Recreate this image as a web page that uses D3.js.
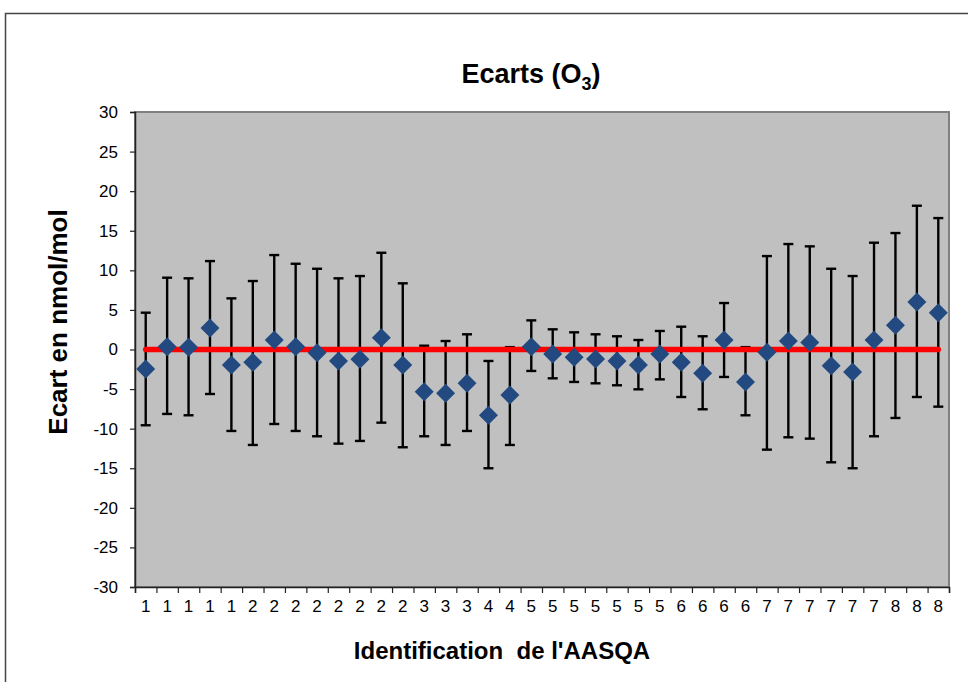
<!DOCTYPE html>
<html>
<head>
<meta charset="utf-8">
<script src="https://cdn.jsdelivr.net/npm/d3@7"></script>
<style>
  html, body { margin: 0; padding: 0; background: #fff; }
  svg { display: block; }
  text { font-family: "Liberation Sans", Arial, sans-serif; }
</style>
</head>
<body>
<svg id="chart" width="968" height="682"></svg>
<script>
// ---- Data ----
const categories = ["1","1","1","1","1","2","2","2","2","2","2","2","2","3","3","3","4","4","5","5","5","5","5","5","5","6","6","6","6","7","7","7","7","7","7","8","8","8"];
const ecart = [-2.46, 0.36, 0.28, 2.71, -1.96, -1.62, 1.2, 0.36, -0.4, -1.45, -1.24, 1.5, -1.96, -5.33, -5.54, -4.27, -8.31, -5.75, 0.36, -0.57, -0.99, -1.2, -1.45, -1.96, -0.57, -1.62, -3.0, 1.2, -4.1, -0.36, 1.07, 0.9, -2.04, -2.84, 1.2, 3.05, 6.0, 4.65];
const upper = [4.65, 9.07, 8.99, 11.17, 6.46, 8.65, 11.93, 10.83, 10.2, 8.99, 9.28, 12.22, 8.36, 0.48, 1.07, 1.92, -1.45, 0.3, 3.68, 2.55, 2.17, 1.92, 1.67, 1.2, 2.34, 2.88, 1.67, 5.87, 0.3, 11.8, 13.32, 13.03, 10.2, 9.28, 13.49, 14.71, 18.16, 16.6];
const lower = [-9.57, -8.14, -8.31, -5.62, -10.29, -12.06, -9.41, -10.29, -10.96, -11.89, -11.55, -9.24, -12.35, -10.96, -12.06, -10.29, -15.0, -12.06, -2.71, -3.64, -4.1, -4.27, -4.52, -5.03, -3.77, -6.0, -7.55, -3.47, -8.31, -12.65, -11.09, -11.26, -14.25, -15.0, -10.96, -8.65, -6.0, -7.22];
const reference = 0;
const yTicks = [-30, -25, -20, -15, -10, -5, 0, 5, 10, 15, 20, 25, 30];

const svg = d3.select("#chart");
const W = 968, H = 682;
const plot = { left: 135, right: 949, top: 112, bottom: 587 };

// outer chart frame
svg.append("rect").attr("x", 0).attr("y", 0).attr("width", W).attr("height", H).attr("fill", "#fff");
svg.append("rect").attr("x", 5.5).attr("y", 13.5).attr("width", 1000).attr("height", 800)
  .attr("fill", "none").attr("stroke", "#444").attr("stroke-width", 1.5);

const idx = categories.map((_, i) => i);
const x = d3.scaleBand().domain(idx).range([plot.left, plot.right]).padding(0);
const xc = i => x(i) + x.bandwidth() / 2;
const y = d3.scaleLinear().domain([-30, 30]).range([plot.bottom, plot.top]);

// plot area
svg.append("rect")
  .attr("x", plot.left).attr("y", plot.top)
  .attr("width", plot.right - plot.left).attr("height", plot.bottom - plot.top)
  .attr("fill", "#C0C0C0").attr("stroke", "#808080").attr("stroke-width", 2);

// Y axis
const yAxis = svg.append("g").attr("transform", `translate(${plot.left},0)`)
  .call(d3.axisLeft(y).tickValues(yTicks).tickSize(5).tickPadding(12).tickFormat(d => String(d)));
yAxis.select(".domain").attr("stroke", "#222").attr("stroke-width", 1.5);
yAxis.selectAll(".tick line").attr("stroke", "#222").attr("stroke-width", 1.2);
yAxis.selectAll("text").attr("font-size", 17).attr("fill", "#000")
  .style("font-family", "'Liberation Sans', Arial, sans-serif");

// X axis: tick marks at category boundaries
const xb = d3.scaleLinear().domain([0, categories.length]).range([plot.left, plot.right]);
const xTickAxis = svg.append("g").attr("transform", `translate(0,${plot.bottom})`)
  .call(d3.axisBottom(xb).tickValues(d3.range(0, categories.length + 1)).tickSize(6).tickFormat(""));
xTickAxis.select(".domain").attr("stroke", "#222").attr("stroke-width", 1.5);
xTickAxis.selectAll(".tick line").attr("stroke", "#222").attr("stroke-width", 1.2);

// X labels
const xLab = svg.append("g").attr("transform", `translate(0,${plot.bottom})`)
  .call(d3.axisBottom(x).tickSize(0).tickPadding(13).tickFormat(i => categories[i]));
xLab.select(".domain").remove();
xLab.selectAll("text").attr("font-size", 17).attr("fill", "#000")
  .style("font-family", "'Liberation Sans', Arial, sans-serif");

// Error bars
const eb = svg.append("g").attr("stroke", "#000").attr("stroke-width", 2.4).attr("fill", "none");
idx.forEach(i => {
  const cx = xc(i);
  eb.append("line").attr("x1", cx).attr("x2", cx).attr("y1", y(upper[i])).attr("y2", y(lower[i]));
  eb.append("line").attr("x1", cx - 5).attr("x2", cx + 5).attr("y1", y(upper[i])).attr("y2", y(upper[i]));
  eb.append("line").attr("x1", cx - 5).attr("x2", cx + 5).attr("y1", y(lower[i])).attr("y2", y(lower[i]));
});

// Reference line at 0
svg.append("line")
  .attr("x1", xc(0)).attr("x2", xc(categories.length - 1))
  .attr("y1", y(reference)).attr("y2", y(reference))
  .attr("stroke", "#FF0000").attr("stroke-width", 5.5).attr("stroke-linecap", "round");

// Diamonds
const sym = d3.symbol().type(d3.symbolSquare).size(180);
svg.append("g").selectAll("path").data(idx).join("path")
  .attr("d", sym)
  .attr("transform", i => `translate(${xc(i)},${y(ecart[i])}) rotate(45)`)
  .attr("fill", "#224A80");

// Title
const title = svg.append("text").attr("x", 531).attr("y", 83).attr("text-anchor", "middle")
  .attr("font-size", 27).attr("font-weight", "bold").attr("fill", "#000");
title.append("tspan").text("Ecarts (O");
title.append("tspan").attr("font-size", 18).attr("dy", 7).text("3");
title.append("tspan").attr("dy", -7).text(")");

// Axis titles
svg.append("text").attr("x", 502).attr("y", 659).attr("text-anchor", "middle")
  .attr("font-size", 24).attr("font-weight", "bold").attr("fill", "#000")
  .attr("xml:space", "preserve").style("white-space", "pre")
  .text("Identification  de l'AASQA");

svg.append("text")
  .attr("transform", "translate(67,322) rotate(-90)")
  .attr("text-anchor", "middle")
  .attr("font-size", 26).attr("font-weight", "bold").attr("fill", "#000")
  .text("Ecart en nmol/mol");
</script>
</body>
</html>
